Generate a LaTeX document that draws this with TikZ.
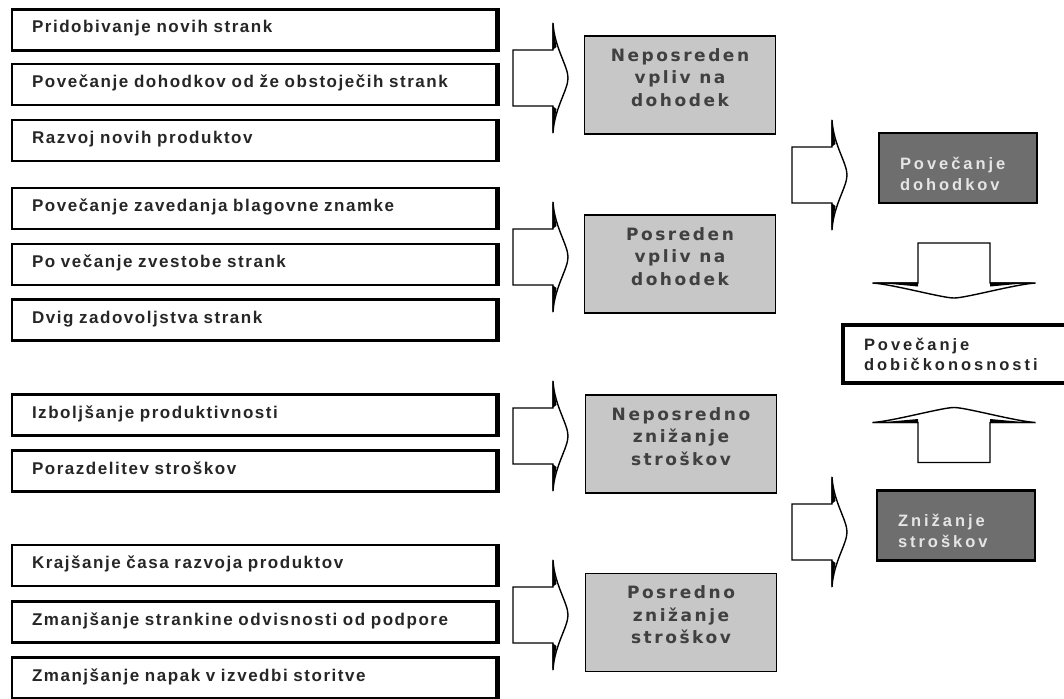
\documentclass[tikz,border=0pt]{standalone}
\usepackage{fontspec}
\setmainfont{Liberation Sans}
\newfontfamily\leftfont[LetterSpace=9]{Liberation Sans}
\newfontfamily\widefont[LetterSpace=18]{Liberation Sans}
\newfontfamily\grayfont[LetterSpace=15]{DejaVu Sans}
\colorlet{box text}{black!85}
\definecolor{gray box}{gray}{0.78}
\definecolor{dark box}{gray}{0.43}
\colorlet{dark text}{black!10}
\tikzset{leftbox/.style={draw, line width=2.6pt, minimum width=484pt, minimum height=41pt,
      text width=444pt, inner xsep=20pt, align=left, text height=12pt, text depth=6pt,
      font=\leftfont\bfseries\fontsize{17}{20}\selectfont, text=box text},
    midbox/.style={draw, line width=1.6pt, fill=gray box, minimum width=191pt, minimum height=98pt,
      align=center, text depth=15pt, font=\grayfont\bfseries\fontsize{17}{22.5}\selectfont, text=black!75},
    darkbox/.style={draw, line width=2.6pt, fill=dark box, minimum width=158pt, minimum height=70pt,
      text width=116pt, inner xsep=21pt, align=left, text depth=10pt,
      font=\widefont\bfseries\fontsize{16.5}{21}\selectfont, text=dark text},
    profitbox/.style={draw, line width=3.5pt, fill=white, minimum width=227pt, minimum height=58pt,
      text width=185pt, inner xsep=21pt, align=left,
      font=\widefont\bfseries\fontsize{16.5}{20}\selectfont, text=box text},
    arrowline/.style={draw, fill=white, line width=1.4pt, line join=miter},
    harrow/.pic={\draw[arrowline] (-27.5,-28) -- (12.5,-28) -- (12.5,-55)
        .. controls (14,-30) and (27.5,-12) .. (27.5,0)
        .. controls (27.5,12) and (14,30) .. (12.5,55) -- (12.5,28) -- (-27.5,28) -- cycle;
      \fill (11.8,-56) -- (11.8,-28) -- (16,-31) -- cycle;
      \fill (11.8,56) -- (11.8,28) -- (16,31) -- cycle;},
    varrow/.pic={\draw[arrowline] (-36,-27.5) -- (36,-27.5) -- (36,12.5) -- (81.5,12.5)
        .. controls (60,14) and (12,27.5) .. (0,27.5)
        .. controls (-12,27.5) and (-60,14) .. (-81.5,12.5) -- (-36,12.5) -- cycle;
      \fill (82,11.8) -- (36,11.8) -- (36,16) -- cycle;
      \fill (-82,11.8) -- (-36,11.8) -- (-36,16) -- cycle;}}

\begin{document}
\begin{tikzpicture}[x=1pt, y=-1pt]
\useasboundingbox (0,0) rectangle (1064,698);

% left column
\node[leftbox] (newcust) at (254,30) {Pridobivanje novih strank};
\node[leftbox] (incrrev) at (254,84.5) {Povečanje dohodkov od že obstoječih strank};
\node[leftbox] (newprod) at (254,140.5) {Razvoj novih produktov};
\node[leftbox] (brand) at (254,208.5) {Povečanje zavedanja blagovne znamke};
\node[leftbox] (loyal) at (254,264.5) {Po večanje zvestobe strank};
\node[leftbox] (satisf) at (254,320) {Dvig zadovoljstva strank};
\node[leftbox] (productiv) at (254,415) {Izboljšanje produktivnosti};
\node[leftbox] (costshare) at (254,471) {Porazdelitev stroškov};
\node[leftbox] (devtime) at (254,565.5) {Krajšanje časa razvoja produktov};
\node[leftbox] (support) at (254,622) {Zmanjšanje strankine odvisnosti od podpore};
\node[leftbox] (errors) at (254,678) {Zmanjšanje napak v izvedbi storitve};
\foreach \n in {newcust,incrrev,newprod,brand,loyal,satisf,productiv,costshare,devtime,support,errors}
  \draw[line width=2.5pt] ([xshift=1.3pt]\n.north east) -- ([xshift=1.3pt]\n.south east);

% middle column
\node[midbox] (directrev) at (680,85) {Neposreden\\vpliv na\\dohodek};
\node[midbox] (indirectrev) at (680,264) {Posreden\\vpliv na\\dohodek};
\node[midbox] (directcost) at (681,444) {Neposredno\\znižanje\\stroškov};
\node[midbox] (indirectcost) at (681,622.5) {Posredno\\znižanje\\stroškov};

% right column
\node[darkbox] (revenue) at (958,168) {Povečanje\\dohodkov};
\node[profitbox] (profit) at (956.5,354) {Povečanje\\dobičkonosnosti};
\node[darkbox] (costs) at (956,525.5) {Znižanje\\stroškov};

% block arrows
\pic at (540.5,78) {harrow};
\pic at (540.5,257) {harrow};
\pic at (540.5,436) {harrow};
\pic at (540.5,615) {harrow};
\pic at (819.5,175) {harrow};
\pic at (819.5,532) {harrow};
\pic at (954,270.5) {varrow};
\pic[yscale=-1] at (954,435) {varrow};
\end{tikzpicture}
\end{document}
